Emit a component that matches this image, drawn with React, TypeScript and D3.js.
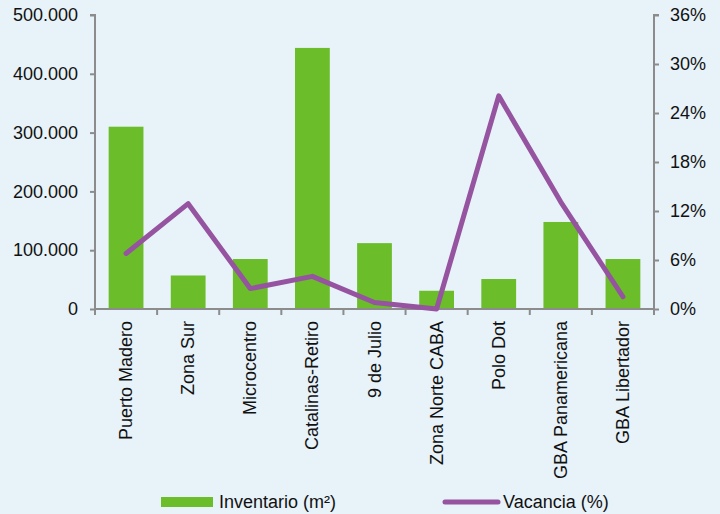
import { useRef, useEffect } from 'react';
import { select, scaleBand, scaleLinear, axisLeft, axisRight, line } from 'd3';

const categories = [
  'Puerto Madero',
  'Zona Sur',
  'Microcentro',
  'Catalinas-Retiro',
  '9 de Julio',
  'Zona Norte CABA',
  'Polo Dot',
  'GBA Panamericana',
  'GBA Libertador',
];
const inventario = [310000, 57000, 85000, 444000, 112000, 31000, 51000, 148000, 85000];
const vacancia = [6.8, 12.9, 2.5, 4.0, 0.8, 0.0, 26.1, 13.1, 1.5];
const leftTicks = [0, 100000, 200000, 300000, 400000, 500000];
const rightTicks = [0, 6, 12, 18, 24, 30, 36];

const W = 720;
const H = 514;
const margin = { top: 15, right: 66, bottom: 205, left: 95 };

const GREEN = '#6bbd29';
const PURPLE = '#9553a0';
const AXIS = '#8c8c8c';
const FONT = '"Liberation Sans", Arial, sans-serif';

const fmtThousands = (v: number) =>
  v === 0 ? '0' : String(v).replace(/\B(?=(\d{3})+(?!\d))/g, '.');

const App = () => {
  const svgRef = useRef<SVGSVGElement | null>(null);

  useEffect(() => {
    const svg = select(svgRef.current);
    svg.selectAll('*').remove();

    const innerW = W - margin.left - margin.right;
    const bottomY = H - margin.bottom;

    const x = scaleBand()
      .domain(categories)
      .range([margin.left, margin.left + innerW])
      .paddingInner(0.44)
      .paddingOuter(0.22);
    const xTick = scaleBand().domain(categories).range([margin.left, margin.left + innerW]);

    const yLeft = scaleLinear().domain([0, 500000]).range([bottomY, margin.top]);
    const yRight = scaleLinear().domain([0, 36]).range([bottomY, margin.top]);

    svg.append('rect').attr('width', W).attr('height', H).attr('fill', '#e7f2f9');

    // bars
    svg
      .selectAll('.bar')
      .data(inventario)
      .join('rect')
      .attr('class', 'bar')
      .attr('x', (d, i) => x(categories[i]) as number)
      .attr('width', x.bandwidth())
      .attr('y', (d) => yLeft(d))
      .attr('height', (d) => bottomY - yLeft(d))
      .attr('fill', GREEN);

    // left axis
    const gl = svg
      .append('g')
      .attr('transform', `translate(${margin.left},0)`)
      .call(axisLeft(yLeft).tickValues(leftTicks).tickFormat((d) => fmtThousands(+d)).tickSize(5).tickPadding(12));
    // right axis
    const gr = svg
      .append('g')
      .attr('transform', `translate(${margin.left + innerW},0)`)
      .call(axisRight(yRight).tickValues(rightTicks).tickFormat((d) => `${d}%`).tickSize(5).tickPadding(11));
    // bottom axis, ticks at the band edges
    const gb = svg.append('g').attr('transform', `translate(0,${bottomY})`);
    gb.append('line')
      .attr('x1', margin.left)
      .attr('x2', margin.left + innerW)
      .attr('stroke', AXIS)
      .attr('stroke-width', 2);
    gb.selectAll('.edge')
      .data([...categories, 'end'])
      .join('line')
      .attr('x1', (d, i) => margin.left + i * xTick.bandwidth())
      .attr('x2', (d, i) => margin.left + i * xTick.bandwidth())
      .attr('y1', 0)
      .attr('y2', 6)
      .attr('stroke', AXIS)
      .attr('stroke-width', 2);
    gb.selectAll('.lbl')
      .data(categories)
      .join('text')
      .attr('transform', (d) => `translate(${(x(d) as number) + x.bandwidth() / 2 + 6},12) rotate(-90)`)
      .attr('text-anchor', 'end')
      .attr('font-family', FONT)
      .attr('font-size', 18)
      .attr('fill', '#111')
      .text((d) => d);

    [gl, gr].forEach((g) => {
      g.select('.domain').attr('stroke', AXIS).attr('stroke-width', 2);
      g.selectAll('.tick line').attr('stroke', AXIS).attr('stroke-width', 2);
      g.selectAll('.tick text').attr('font-family', FONT).attr('font-size', 18).attr('fill', '#111');
    });
    gl.select('.domain').attr('d', `M-5,${margin.top}H0V${bottomY}`);
    gr.select('.domain').attr('d', `M5,${margin.top}H0V${bottomY}`);

    // vacancy line
    const path = line<number>()
      .x((d, i) => (x(categories[i]) as number) + x.bandwidth() / 2)
      .y((d) => yRight(d));
    svg
      .append('path')
      .datum(vacancia)
      .attr('d', path)
      .attr('fill', 'none')
      .attr('stroke', PURPLE)
      .attr('stroke-width', 5)
      .attr('stroke-linejoin', 'round')
      .attr('stroke-linecap', 'round');

    // legend
    const lg = svg.append('g').attr('font-family', FONT).attr('font-size', 18).attr('fill', '#111');
    lg.append('rect').attr('x', 161).attr('y', 497).attr('width', 52).attr('height', 10).attr('fill', GREEN);
    lg.append('text').attr('x', 219).attr('y', 508).text('Inventario (m²)');
    lg.append('line')
      .attr('x1', 445)
      .attr('x2', 498)
      .attr('y1', 502)
      .attr('y2', 502)
      .attr('stroke', PURPLE)
      .attr('stroke-width', 5)
      .attr('stroke-linecap', 'round');
    lg.append('text').attr('x', 503).attr('y', 508).text('Vacancia (%)');
  }, []);

  return (
    <svg
      ref={svgRef}
      width={W}
      height={H}
      style={{ position: 'absolute', left: 0, top: 0, display: 'block' }}
    ></svg>
  );
};

export default App;
